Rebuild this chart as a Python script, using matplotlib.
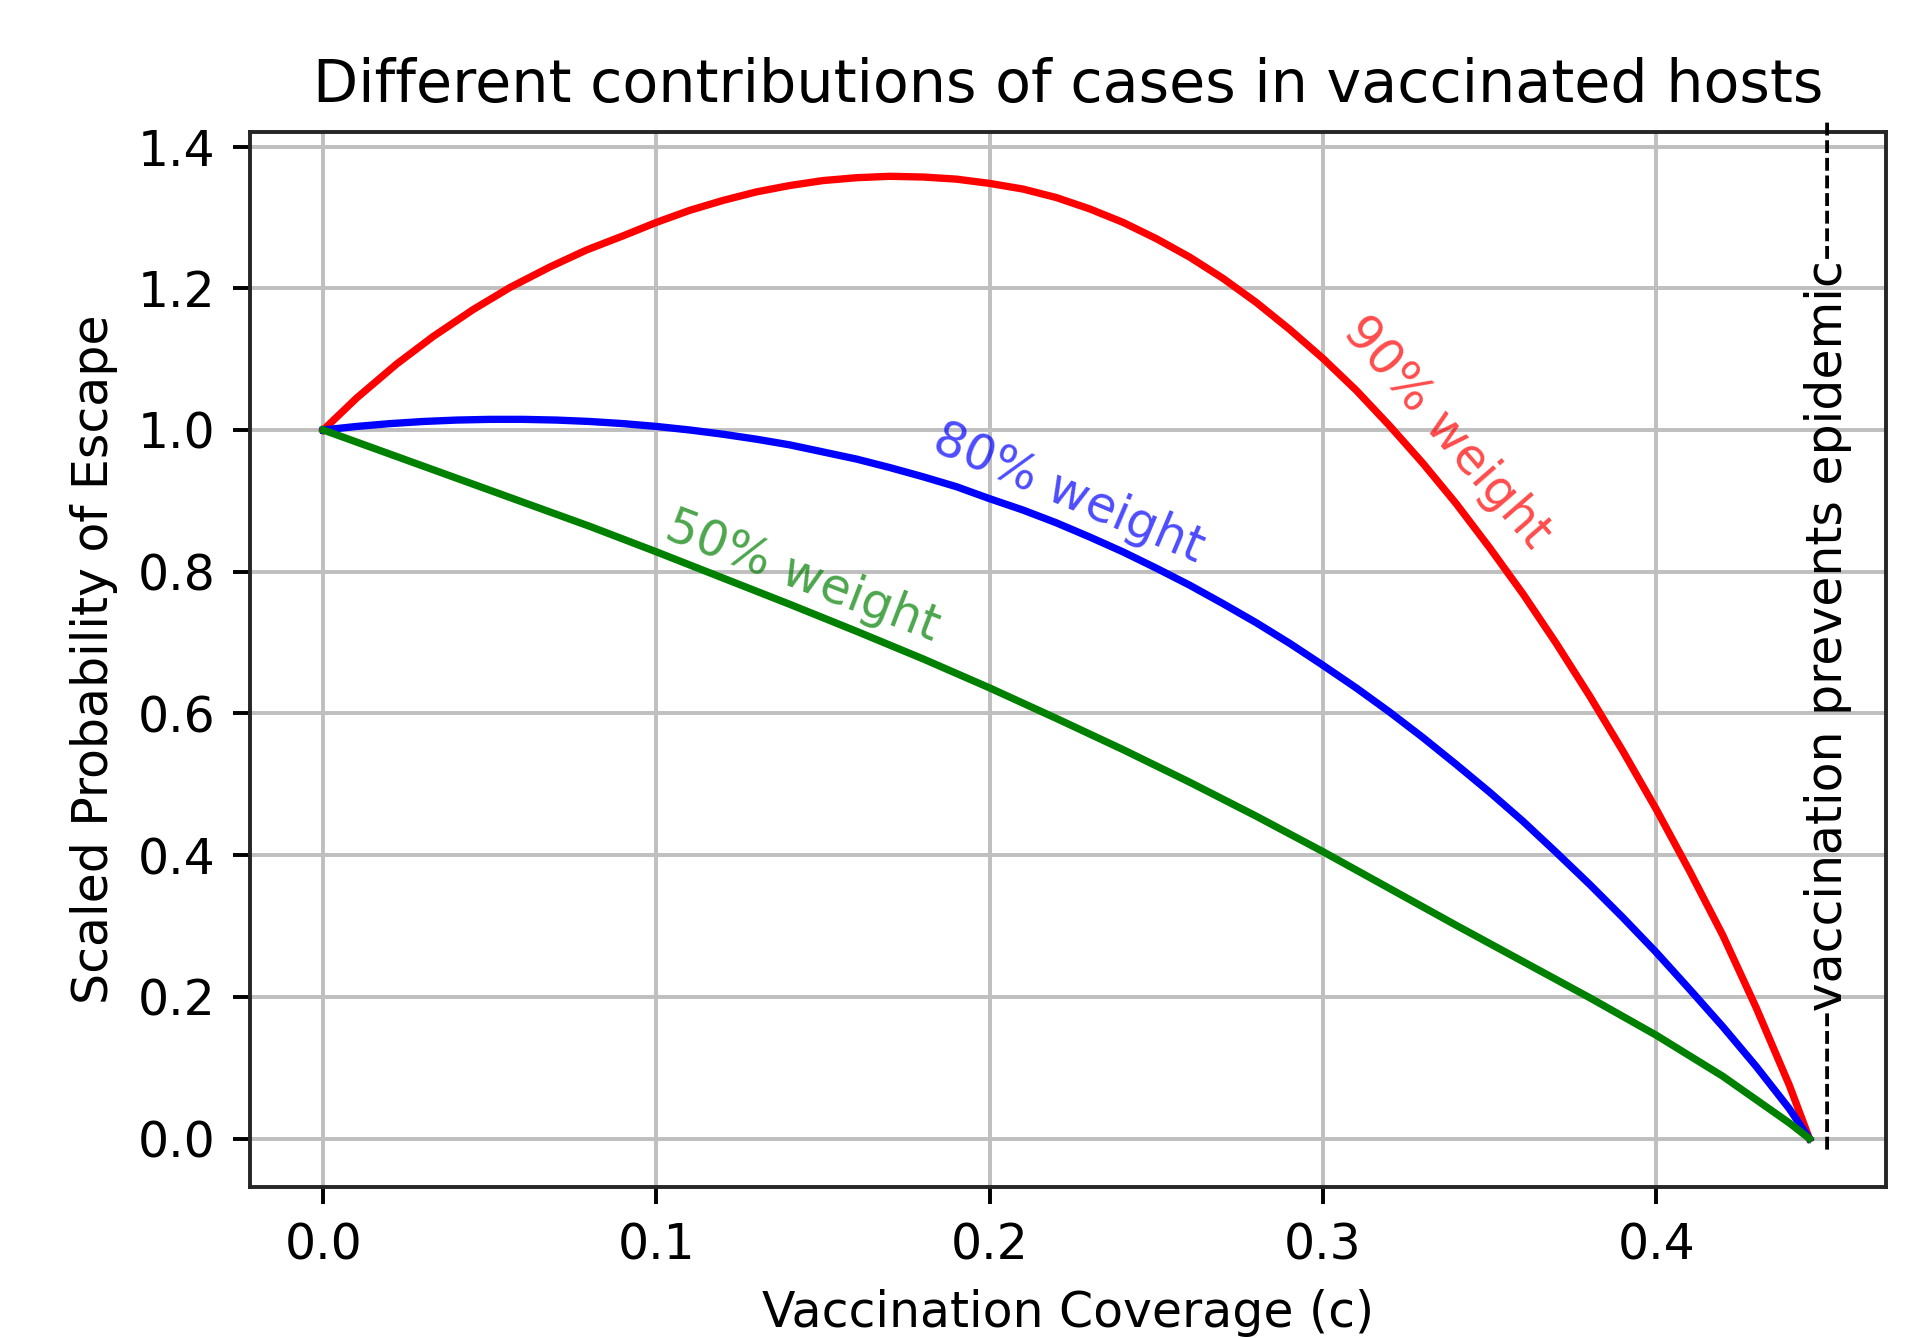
import matplotlib.pyplot as plt

# values
c_90 = [0.00, 0.01, 0.022, 0.033, 0.045, 0.056, 0.068, 0.079, 0.09, 0.10,
        0.11, 0.12, 0.13, 0.14, 0.15, 0.16, 0.17, 0.18, 0.19, 0.20,
        0.21, 0.22, 0.23, 0.24, 0.25, 0.26, 0.27, 0.28, 0.29, 0.30,
        0.31, 0.32, 0.33, 0.34, 0.35, 0.36, 0.37, 0.38, 0.39, 0.40,
        0.41, 0.42, 0.43, 0.44, 0.446]
p_90 = [1.000, 1.045, 1.093, 1.132, 1.170, 1.201, 1.230, 1.254, 1.274, 1.293,
        1.310, 1.324, 1.336, 1.345, 1.352, 1.356, 1.358, 1.357, 1.354, 1.348,
        1.340, 1.328, 1.312, 1.293, 1.270, 1.244, 1.214, 1.180, 1.142, 1.101,
        1.056, 1.006, 0.953, 0.896, 0.834, 0.769, 0.699, 0.625, 0.547, 0.465,
        0.378, 0.287, 0.185, 0.075, 0.000]

c_80 = [0.00, 0.01, 0.02, 0.03, 0.04, 0.05, 0.06, 0.07, 0.08, 0.09,
        0.10, 0.11, 0.12, 0.13, 0.14, 0.15, 0.16, 0.17, 0.18, 0.19,
        0.20, 0.21, 0.22, 0.23, 0.24, 0.25, 0.26, 0.27, 0.28, 0.29,
        0.30, 0.31, 0.32, 0.33, 0.34, 0.35, 0.36, 0.37, 0.38, 0.39,
        0.40, 0.41, 0.42, 0.43, 0.44, 0.446]
p_80 = [1.000, 1.005, 1.009, 1.012, 1.014, 1.015, 1.015, 1.014, 1.012, 1.009,
        1.005, 1.000, 0.994, 0.987, 0.979, 0.969, 0.959, 0.947, 0.934, 0.920,
        0.903, 0.887, 0.869, 0.849, 0.828, 0.805, 0.781, 0.755, 0.728, 0.699,
        0.668, 0.636, 0.602, 0.566, 0.528, 0.489, 0.448, 0.404, 0.359, 0.312,
        0.263, 0.211, 0.158, 0.102, 0.042, 0.000]

c_50 = [0.00, 0.02, 0.04, 0.06, 0.08, 0.10, 0.12, 0.14, 0.16, 0.18,
        0.20, 0.22, 0.24, 0.26, 0.28, 0.30, 0.32, 0.34, 0.36, 0.38,
        0.40, 0.42, 0.44, 0.446]
p_50 = [1.000, 0.966, 0.932, 0.898, 0.864, 0.828, 0.791, 0.754, 0.716, 0.677,
        0.636, 0.593, 0.549, 0.503, 0.455, 0.405, 0.353, 0.301, 0.250, 0.199,
        0.146, 0.088, 0.022, 0.000]

x_ticks = [0.0, 0.1, 0.2, 0.3, 0.4]
y_ticks = [0.0, 0.2, 0.4, 0.6, 0.8, 1.0, 1.2, 1.4]

fig = plt.figure(figsize=(1908 / 352, 1338 / 352), dpi=352)
ax = fig.add_axes([0.131, 0.113, 0.8575, 0.7886])

ax.plot(c_90, p_90, color='red')
ax.plot(c_80, p_80, color='blue')
ax.plot(c_50, p_50, color='green')

# inline curve labels
ax.text(0.3371, 0.996, '90% weight', color='red', alpha=0.7, fontsize=10,
        rotation=-49, ha='center', va='center')
ax.text(0.2236, 0.910, '80% weight', color='blue', alpha=0.7, fontsize=10,
        rotation=-23, ha='center', va='center')
ax.text(0.1440, 0.794, '50% weight', color='green', alpha=0.7, fontsize=10,
        rotation=-21, ha='center', va='center')

ax.text(0.4515, -0.018, '-' * 8 + 'vaccination prevents epidemic' + '-' * 8,
        rotation=90, ha='center', va='bottom', fontsize=10, clip_on=False)

ax.set_xlim(-0.022, 0.469)
ax.set_ylim(-0.068, 1.421)
ax.set_xticks(x_ticks)
ax.set_yticks(y_ticks)
ax.grid(True, color='#bfbfbf')
for s in ax.spines.values():
    s.set_color('#262626')
ax.set_xlabel('Vaccination Coverage (c)')
ax.set_ylabel('Scaled Probability of Escape')
ax.set_title('Different contributions of cases in vaccinated hosts')

plt.savefig('out.png', dpi=352)
plt.close()
